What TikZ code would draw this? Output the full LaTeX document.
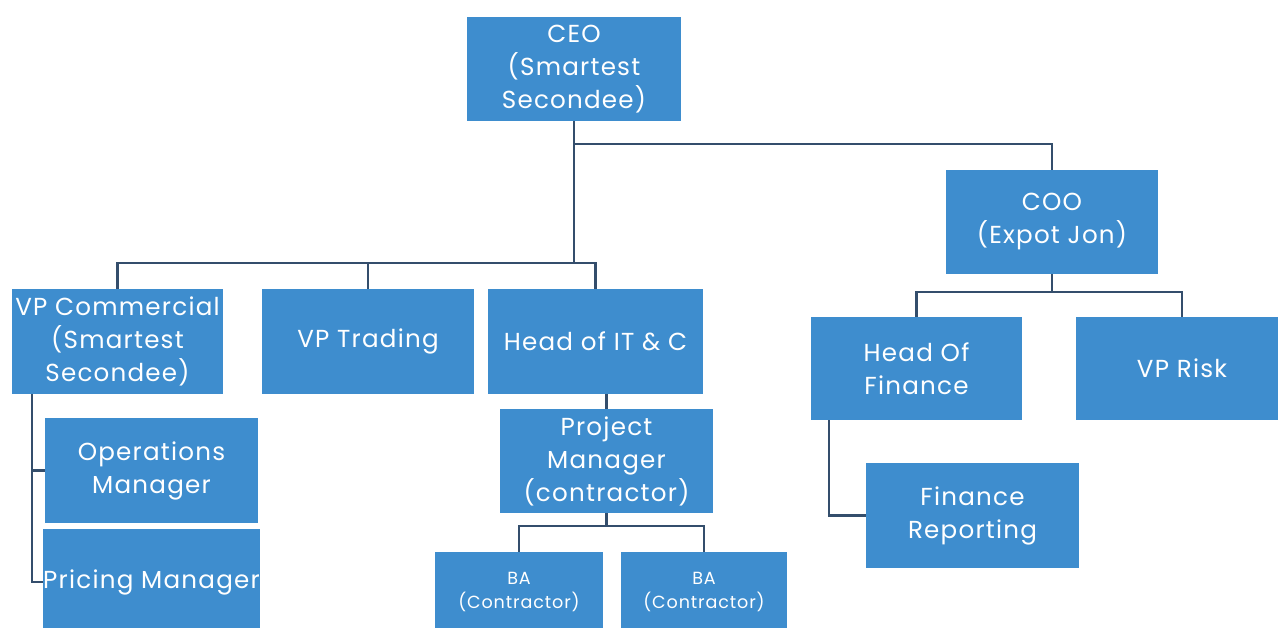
\documentclass[tikz,border=0pt]{standalone}
\usepackage{fontspec}
\setmainfont{Poppins}[LetterSpace=5]
\definecolor{boxblue}{RGB}{62,141,206}
\definecolor{linecol}{RGB}{52,78,108}
\tikzset{
  orgbox/.style={fill=boxblue, draw=none, text=white, align=center, inner sep=0pt,
    font=\fontsize{14}{18.8}\selectfont},
  smallbox/.style={orgbox, font=\fontsize{10}{13.5}\selectfont},
  conn/.style={draw=linecol, line width=1.3pt}
}
\begin{document}
\begin{tikzpicture}[x=0.02cm, y=-0.02cm]
\useasboundingbox (0,0) rectangle (1278,628);
\clip (0,0) rectangle (1278,628);
\fill[white] (0,0) rectangle (1278,628);
% boxes
\node[orgbox, minimum width=214*0.02cm, minimum height=104*0.02cm] (ceo) at (574,69) {CEO\\(Smartest\\Secondee)};
\node[orgbox, minimum width=212*0.02cm, minimum height=104*0.02cm] (coo) at (1052,222) {COO\\(Expot Jon)};
\node[orgbox, minimum width=211*0.02cm, minimum height=105*0.02cm] (vpc) at (117.5,341.5) {VP Commercial\\(Smartest\\Secondee)};
\node[orgbox, minimum width=212*0.02cm, minimum height=105*0.02cm] (vpt) at (368,341.5) {VP Trading};
\node[orgbox, minimum width=215*0.02cm, minimum height=105*0.02cm] (hit) at (595.5,341.5) {Head of IT \& C};
\node[orgbox, minimum width=213*0.02cm, minimum height=104*0.02cm] (pm) at (606.5,461) {Project\\Manager\\(contractor)};
\node[smallbox, minimum width=168*0.02cm, minimum height=80*0.02cm] (ba1) at (519,592) {BA\\(Contractor)};
\node[smallbox, minimum width=166*0.02cm, minimum height=80*0.02cm] (ba2) at (704,592) {BA\\(Contractor)};
\node[orgbox, minimum width=213*0.02cm, minimum height=105*0.02cm] (ops) at (151.5,470.5) {Operations\\Manager};
\node[orgbox, minimum width=213*0.02cm, minimum height=106*0.02cm] (pri) at (151.5,582) {Pricing Manager};
\node[orgbox, minimum width=211*0.02cm, minimum height=103*0.02cm] (hof) at (916.5,368.5) {Head Of\\Finance};
\node[orgbox, minimum width=212*0.02cm, minimum height=103*0.02cm] (vpr) at (1182,368.5) {VP Risk};
\node[orgbox, minimum width=213*0.02cm, minimum height=105*0.02cm] (fr) at (972.5,515.5) {Finance\\Reporting};
% connectors
\coordinate (topbar) at (574,263);
\draw[conn] (ceo.south) -- (topbar);
\draw[conn] (vpc.north) -- (vpc.north |- topbar) -- (hit.north |- topbar) -- (hit.north);
\draw[conn] (vpt.north) -- (vpt.north |- topbar);
\coordinate (ceobr) at (574,144);
\draw[conn] (ceobr) -- (coo.north |- ceobr) -- (coo.north);
\coordinate (coobar) at (1052,292);
\draw[conn] (coo.south) -- (coobar);
\draw[conn] (hof.north) -- (hof.north |- coobar) -- (vpr.north |- coobar) -- (vpr.north);
\draw[conn] (pm.north) -- (pm.north |- hit.south);
\coordinate (pmbar) at (606.5,526);
\draw[conn] (pm.south) -- (pmbar);
\draw[conn] (ba1.north) -- (ba1.north |- pmbar) -- (ba2.north |- pmbar) -- (ba2.north);
\coordinate (vpcx) at (32,0);
\draw[conn] (vpcx |- vpc.south) -- (vpcx |- pri.west) -- (pri.west);
\draw[conn] (vpcx |- ops.west) -- (ops.west);
\coordinate (hofx) at (829,0);
\draw[conn] (hofx |- hof.south) -- (hofx |- fr.west) -- (fr.west);
\end{tikzpicture}
\end{document}
